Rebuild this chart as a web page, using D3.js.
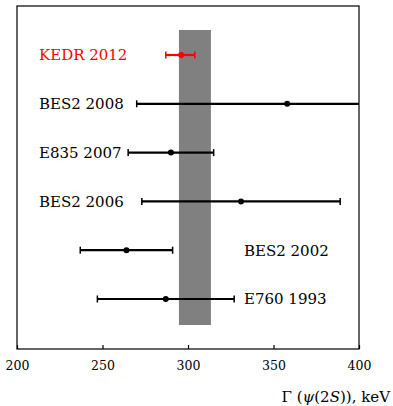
<!DOCTYPE html>
<html>
<head>
<style>
  body { margin: 0; background: #fff; }
  text { font-family: "DejaVu Serif", "Liberation Serif", serif; }
</style>
</head>
<body>
<div id="chart"></div>
<script src="https://d3js.org/d3.v7.min.js"></script>
<script>
// measurements of the psi(2S) width, keV
var experiments = ["KEDR 2012", "BES2 2008", "E835 2007", "BES2 2006", "BES2 2002", "E760 1993"];
var centers = [296, 358, 290, 331, 264, 287];
var errLow = [9, 88, 25, 58, 27, 40];
var errHigh = [8, 88, 25, 58, 27, 40];
var labelSide = ["left", "left", "left", "left", "right", "right"];
var pointColors = ["#ff0000", "#000", "#000", "#000", "#000", "#000"];
var average = [294.7, 313.4];   // shaded band
var xTicks = [200, 250, 300, 350, 400];

var W = 393, H = 406;
var margin = {top: 6, right: 34, bottom: 57, left: 17};
var width = W - margin.left - margin.right,
    height = H - margin.top - margin.bottom;

var svg = d3.select("#chart").append("svg")
    .attr("width", W)
    .attr("height", H);

var g = svg.append("g")
    .attr("transform", "translate(" + margin.left + "," + margin.top + ")");

var x = d3.scaleLinear().domain([200, 400]).range([0, width]);
var y = d3.scalePoint().domain(experiments).range([49, 293]);

g.append("defs").append("clipPath").attr("id", "clip")
  .append("rect").attr("width", width).attr("height", height);

// average band
g.append("rect")
    .attr("x", x(average[0]))
    .attr("width", x(average[1]) - x(average[0]))
    .attr("y", 24)
    .attr("height", 295)
    .attr("fill", "#808080");

var rows = g.append("g").attr("clip-path", "url(#clip)")
  .selectAll("g.row")
  .data(experiments)
  .enter().append("g")
    .attr("class", "row")
    .attr("transform", function(d) { return "translate(0," + y(d) + ")"; });

rows.append("line")
    .attr("x1", function(d, i) { return x(centers[i] - errLow[i]); })
    .attr("x2", function(d, i) { return x(centers[i] + errHigh[i]); })
    .attr("stroke", function(d, i) { return pointColors[i]; })
    .attr("stroke-width", 2.2);

// caps
[-1, 1].forEach(function(s) {
  rows.append("line")
      .attr("x1", function(d, i) { return x(s < 0 ? centers[i] - errLow[i] : centers[i] + errHigh[i]); })
      .attr("x2", function(d, i) { return x(s < 0 ? centers[i] - errLow[i] : centers[i] + errHigh[i]); })
      .attr("y1", -3.5).attr("y2", 3.5)
      .attr("stroke", function(d, i) { return pointColors[i]; })
      .attr("stroke-width", 1.5);
});

rows.append("circle")
    .attr("cx", function(d, i) { return x(centers[i]); })
    .attr("r", 3)
    .attr("fill", function(d, i) { return pointColors[i]; });

rows.append("text")
    .attr("x", function(d, i) { return labelSide[i] == "left" ? 22 : 227; })
    .attr("dy", "0.36em")
    .attr("font-size", 15)
    .attr("fill", function(d, i) { return pointColors[i]; })
    .text(function(d) { return d; });

// frame
g.append("rect")
    .attr("width", width).attr("height", height)
    .attr("fill", "none")
    .attr("stroke", "#000")
    .attr("stroke-width", 1.2);

var xAxis = g.append("g")
    .attr("transform", "translate(0," + height + ")")
    .call(d3.axisBottom(x).tickValues(xTicks).tickSizeInner(-4).tickSizeOuter(0).tickPadding(12));
xAxis.select(".domain").remove();
xAxis.selectAll("line").attr("stroke", "#000").attr("stroke-width", 1.2);
xAxis.selectAll("text")
    .attr("font-family", "DejaVu Serif, serif")
    .attr("font-size", 12.5)
    .attr("fill", "#000");

var title = svg.append("text")
    .attr("x", 390)
    .attr("y", 402)
    .attr("text-anchor", "end")
    .attr("font-size", 15);
title.append("tspan").text("Γ (");
title.append("tspan").attr("font-style", "italic").text("ψ");
title.append("tspan").text("(2");
title.append("tspan").attr("font-style", "italic").text("S");
title.append("tspan").text(")), keV");
</script>
</body>
</html>
